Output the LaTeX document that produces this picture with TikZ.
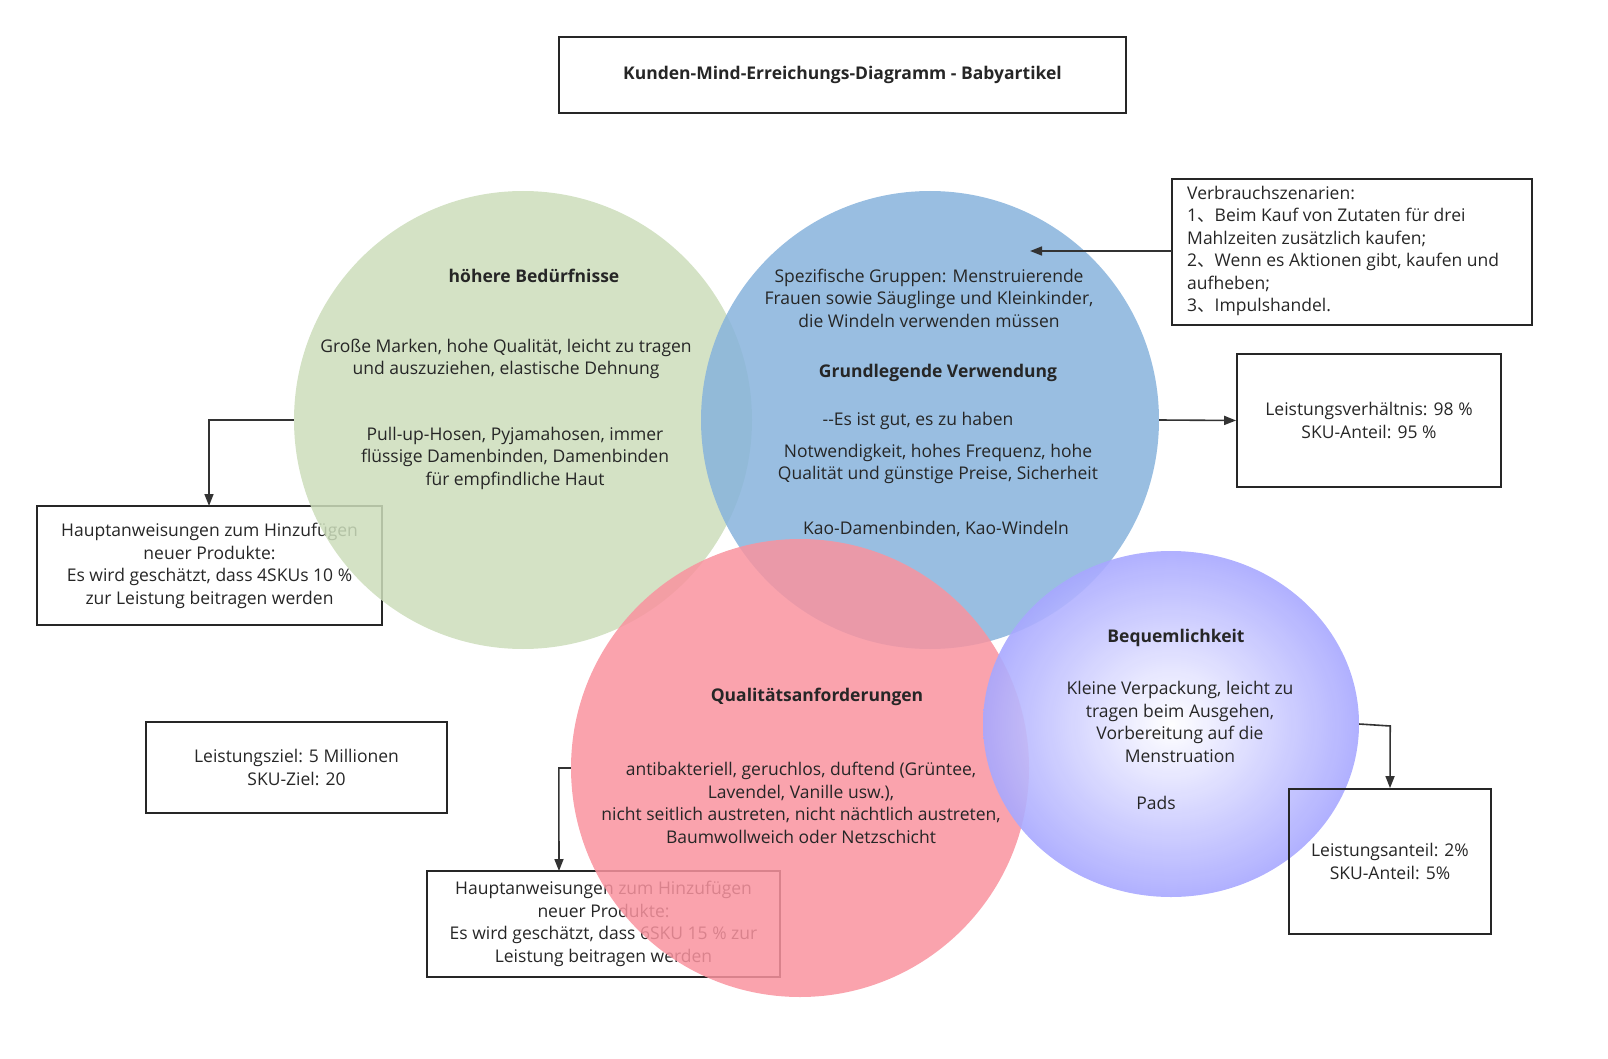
\documentclass[tikz,border=0pt]{standalone}
\usepackage{fontspec}
\setmainfont{Open Sans}
\newfontfamily\cjk{Noto Sans CJK SC}
\usetikzlibrary{arrows.meta,shapes.geometric}
\begin{document}
\begin{tikzpicture}[x=1pt,y=-1pt,
  every node/.style={font=\fontsize{17.5}{22.5}\selectfont, text=black!85},
  box/.style={draw=black!85, line width=1.8pt, fill=none},
  txt/.style={align=center, inner sep=0},
  bf/.style={font=\fontsize{17.5}{22.5}\selectfont\bfseries},
  arr/.style={draw=black!80, line width=1.6pt, -{Triangle[length=12pt,width=9pt]}},
  blob/.style={circle, minimum size=458pt, inner sep=0, fill opacity=0.85}]
\useasboundingbox (0,0) rectangle (1608,1059);
\definecolor{cgreen}{HTML}{CCDDBB}
\definecolor{cblue}{HTML}{87B3DC}
\definecolor{cpink}{HTML}{F9939F}
\definecolor{cpurp}{HTML}{A8A8FF}

% boxes beneath circles
\draw[box] (37,506) rectangle (382,625);
\node[txt] (h1) at (209.5,566) {Hauptanweisungen zum Hinzufügen\\neuer Produkte:\\Es wird geschätzt, dass 4SKUs 10 \%\\zur Leistung beitragen werden};
\draw[box] (427,871) rectangle (780,977);
\node[txt] (h2) at (603.5,924) {Hauptanweisungen zum Hinzufügen\\neuer Produkte:\\Es wird geschätzt, dass 6SKU 15 \% zur\\Leistung beitragen werden};
\coordinate (h1t) at (209,506);
\coordinate (h2t) at (559,871);

% circles
\node[blob, fill=cgreen] (g) at (523,420) {};
\node[blob, fill=cblue] (b) at (930,420) {};
\node[blob, fill=cpink] (p) at (800,768) {};
\node[ellipse, minimum width=376pt, minimum height=346pt, inner sep=0,
  inner color=white, outer color=cpurp, fill opacity=0.9] (q) at (1171,724) {};

% title
\node[box, minimum width=567pt, minimum height=76pt, bf] (t) at (842.5,75) {Kunden-Mind-Erreichungs-Diagramm - Babyartikel};

% green texts
\node[txt, bf] at (534,276) {höhere Bedürfnisse};
\node[txt] at (506,359) {Große Marken, hohe Qualität, leicht zu tragen\\und auszuziehen, elastische Dehnung};
\node[txt] at (515,458) {Pull-up-Hosen, Pyjamahosen, immer\\flüssige Damenbinden, Damenbinden\\für empfindliche Haut};

% blue texts
\node[txt] at (929,298) {Spezifische Gruppen: Menstruierende\\Frauen sowie Säuglinge und Kleinkinder,\\die Windeln verwenden müssen};
\node[txt, bf] at (938,373) {Grundlegende Verwendung};
\node[txt] at (918,421) {{-}{-}Es ist gut, es zu haben};
\node[txt] at (938,464) {Notwendigkeit, hohes Frequenz, hohe\\Qualität und günstige Preise, Sicherheit};
\node[txt] at (936,529) {Kao-Damenbinden, Kao-Windeln};

% pink texts
\node[txt, bf] at (817,697) {Qualitätsanforderungen};
\node[txt] at (801,803) {antibakteriell, geruchlos, duftend (Grüntee,\\Lavendel, Vanille usw.),\\nicht seitlich austreten, nicht nächtlich austreten,\\Baumwollweich oder Netzschicht};

% purple texts
\node[txt, bf] at (1176,638) {Bequemlichkeit};
\node[txt] at (1180,722) {Kleine Verpackung, leicht zu\\tragen beim Ausgehen,\\Vorbereitung auf die\\Menstruation};
\node[txt] at (1156,803) {Pads};

% other boxes
\draw[box] (1172,179) rectangle (1532,325);
\node[txt, align=left, anchor=north west] (v) at (1187,186) {Verbrauchszenarien:\\1{\cjk 、}Beim Kauf von Zutaten für drei\\Mahlzeiten zusätzlich kaufen;\\2{\cjk 、}Wenn es Aktionen gibt, kaufen und\\aufheben;\\3{\cjk 、}Impulshandel.};
\coordinate (vl) at (1172,251);
\coordinate (vt) at (1030,251);

\node[box, minimum width=264pt, minimum height=133pt, align=center] (lv) at (1369,420.5) {Leistungsverhältnis: 98 \%\\SKU-Anteil: 95 \%};
\node[box, minimum width=301pt, minimum height=91pt, align=center] (lz) at (296.5,767.5) {Leistungsziel: 5 Millionen\\SKU-Ziel: 20};
\node[box, minimum width=202pt, minimum height=145pt, align=center] (la) at (1390,861.5) {Leistungsanteil: 2\%\\SKU-Anteil: 5\%};

% connectors
\draw[arr] (vl) -- (vt);
\draw[arr] (b.east) -- (lv.west);
\draw[arr] (g.west) -| (h1t);
\draw[arr] (p.west) -- ++(-12,0) -- (h2t);
\draw[arr] (q.east) -- ++(31,2) -- (la.north);
\end{tikzpicture}
\end{document}
